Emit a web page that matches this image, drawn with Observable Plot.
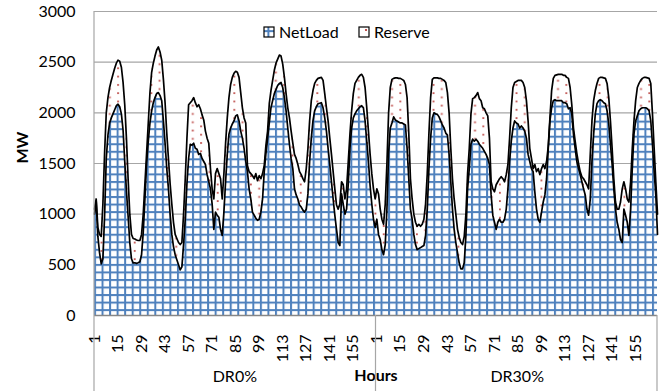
<!DOCTYPE html>
<html><head><meta charset="utf-8">
<script src="https://cdn.jsdelivr.net/npm/d3@7"></script>
<script src="https://cdn.jsdelivr.net/npm/@observablehq/plot@0.6"></script>
<style>
body{margin:0;background:#fff;}
#chart{position:relative;width:659px;height:391px;overflow:hidden;background:#fff;}
</style></head><body><div id="chart"></div>
<script>
const panels = ["DR0%", "DR30%"];
const hourLabels = [1, 15, 29, 43, 57, 71, 85, 99, 113, 127, 141, 155];
const hoursPerPanel = 168;
const yTicks = [0, 500, 1000, 1500, 2000, 2500, 3000];
const seriesNames = ["NetLoad", "Reserve"];

const netLoadDR0 = [
  1000,1130,780,620,510,560,980,1550,1780,1900,1950,1990,2030,2070,2085,2060,1990,1830,1520,1230,980,720,560,520,
  520,515,520,530,600,820,1150,1500,1720,1900,2020,2100,2150,2190,2200,2170,2120,1920,1700,1450,1250,1000,800,680,
  600,550,500,450,480,700,950,1300,1550,1690,1680,1700,1650,1640,1590,1600,1550,1520,1490,1390,1320,1250,1100,850,
  1020,990,970,850,790,1020,1320,1590,1790,1850,1890,1920,1970,1980,1920,1820,1750,1650,1520,1420,1250,1150,1020,990,
  960,940,950,1020,1150,1420,1600,1750,1900,2050,2120,2190,2230,2270,2290,2300,2250,2150,2020,1850,1690,1550,1450,1250,
  1190,1150,1090,1070,1040,1020,1050,1200,1520,1750,1920,2020,2060,2090,2095,2100,2050,1950,1820,1650,1490,1320,1150,990,
  850,720,690,1200,1100,1000,1050,1300,1650,1850,1950,1990,2020,2040,2060,2070,2050,1920,1720,1520,1280,1100,950,870
];
const reserveDR0 = [
  50,20,90,180,270,540,620,450,370,350,370,390,410,420,435,450,460,470,560,520,370,280,240,240,
  235,230,220,210,200,180,150,100,180,300,380,390,410,430,450,430,400,410,400,350,300,300,300,240,
  200,210,220,250,240,300,400,450,530,410,440,450,450,420,490,440,430,410,330,360,380,200,150,300,
  380,460,430,500,360,380,380,360,360,430,460,470,440,420,430,380,300,300,380,60,170,250,360,360,
  440,390,430,330,250,60,80,70,190,170,200,230,260,260,280,260,230,200,170,200,260,270,250,340,
  360,340,330,320,310,300,400,450,400,370,300,270,260,250,250,250,270,240,230,270,260,270,270,260,
  240,330,410,120,190,150,200,220,140,170,240,300,300,310,310,310,300,330,330,300,310,300,300,280
];
const netLoadDR30 = [
  950,800,750,650,600,700,1050,1600,1850,1900,1960,1930,1920,1910,1900,1900,1890,1880,1650,1350,1050,950,800,700,
  650,660,670,680,690,790,1050,1450,1750,1950,2000,1990,1985,1960,1920,1880,1850,1800,1780,1590,1320,1050,850,720,
  620,520,460,460,520,790,1250,1450,1690,1740,1720,1740,1720,1690,1670,1650,1620,1590,1550,1490,1190,990,920,850,
  920,950,920,920,950,1050,1250,1520,1720,1850,1920,1900,1890,1850,1870,1850,1820,1750,1590,1520,1450,1420,1220,1050,
  950,920,1020,1120,1190,1350,1650,1920,2050,2120,2130,2120,2120,2120,2120,2100,2100,2090,2040,2050,1990,1790,1650,1520,
  1450,1390,1320,1250,1190,1050,990,1150,1520,1790,1990,2090,2120,2130,2120,2100,2090,2020,1890,1690,1490,1250,1050,920,
  850,750,720,1050,990,920,790,1050,1450,1790,1920,1970,2020,2040,2050,2050,2050,2040,2020,1920,1690,1420,1190,800
];
const reserveDR30 = [
  300,400,300,300,300,400,450,400,400,430,380,415,425,430,440,430,430,400,500,450,300,200,200,220,
  230,240,210,220,260,310,350,350,400,380,345,355,360,380,420,450,470,500,420,410,330,300,300,280,
  230,250,260,240,260,210,150,200,300,400,430,430,480,450,450,400,420,410,420,260,130,260,300,440,
  400,400,450,430,370,340,240,230,330,400,380,410,430,470,450,450,430,370,330,130,100,30,270,370,
  500,470,430,370,260,170,20,30,170,220,240,255,260,260,260,270,270,260,300,200,90,60,70,80,
  50,30,50,100,130,240,260,440,400,330,230,200,220,220,230,245,250,270,260,230,160,100,70,130,
  200,370,530,270,260,230,330,270,200,130,200,280,270,280,290,300,300,305,320,370,300,230,130,200
];

const rows = [];
[[netLoadDR0, reserveDR0], [netLoadDR30, reserveDR30]].forEach(([net, res], p) => {
  net.forEach((v, h) => rows.push({i: p * hoursPerPanel + h, panel: panels[p], hour: h + 1, net: v, reserve: res[h], total: v + res[h]}));
});
const tickIdx = panels.flatMap((_, p) => hourLabels.map(h => p * hoursPerPanel + h - 1));
const panelRows = panels.map((name, p) => ({name, mid: p * hoursPerPanel + (hoursPerPanel - 1) / 2}));

const FONT = "Lato, 'Open Sans', sans-serif";
const chartSvg = Plot.plot({
  width: 659, height: 391,
  marginLeft: 94, marginRight: 2, marginTop: 11, marginBottom: 76,
  style: {fontFamily: FONT, fontSize: "16px", color: "#000", background: "#fff", overflow: "visible"},
  x: {domain: [0, rows.length - 1]},
  y: {domain: [0, 3000]},
  marks: [
    Plot.gridY(yTicks, {stroke: "#a6a6a6", strokeOpacity: 1, strokeWidth: 1.2}),
    Plot.areaY(rows, {x: "i", y1: "net", y2: "total", fill: "url(#resPat)"}),
    Plot.areaY(rows, {x: "i", y1: 0, y2: "net", fill: "url(#gridPat)"}),
    Plot.lineY(rows, {x: "i", y: "total", stroke: "#000", strokeWidth: 1.7}),
    Plot.lineY(rows, {x: "i", y: "net", stroke: "#000", strokeWidth: 1.7}),
    Plot.ruleY([0], {stroke: "#868686", strokeWidth: 1.6}),
    Plot.axisY({ticks: yTicks, tickFormat: d => String(d), tickSize: 0, tickPadding: 19, label: null, fontSize: 16}),
    Plot.axisX({ticks: tickIdx, tickFormat: i => String((i % hoursPerPanel) + 1), tickRotate: -90, tickSize: 0, tickPadding: 19, label: null, fontSize: 16}),
    Plot.text(panelRows, {x: "mid", text: "name", frameAnchor: "bottom", dy: 66, fontSize: 16}),
    Plot.text(["Hours"], {frameAnchor: "bottom", dy: 65, fontSize: 16, fontWeight: "bold"}),
    Plot.text(["MW"], {frameAnchor: "left", dx: -72, rotate: -90, fontSize: 16, fontWeight: "bold"})
  ]
});

const s = d3.select(chartSvg);
s.insert("defs", ":first-child").html(`
  <pattern id="gridPat" patternUnits="userSpaceOnUse" width="7.54" height="7.54" x="94" y="0">
    <rect width="7.54" height="7.54" fill="#fff"/>
    <rect x="0" y="0" width="7.54" height="2" fill="#4f81bd"/>
    <rect x="0" y="0" width="2" height="7.54" fill="#4f81bd"/>
  </pattern>
  <pattern id="resPat" patternUnits="userSpaceOnUse" width="16.6" height="8.3">
    <rect width="16.6" height="8.3" fill="#fff"/>
    <rect x="1" y="1" width="1.8" height="1.8" fill="#c0504d"/>
    <rect x="9.3" y="5.15" width="1.8" height="1.8" fill="#c0504d"/>
  </pattern>
  <pattern id="resSw" patternUnits="userSpaceOnUse" width="12" height="12">
    <rect width="12" height="12" fill="#fff"/>
    <rect x="5" y="5" width="2" height="2" fill="#c0504d"/>
  </pattern>`);

const xs = chartSvg.scale("x");
const leftPx = 94, rightPx = 659 - 2, bottomPx = 391 - 76, topPx = 11;
const deco = s.append("g").attr("stroke", "#a6a6a6").attr("stroke-width", 1.2);
deco.append("line").attr("x1", leftPx).attr("x2", leftPx).attr("y1", topPx).attr("y2", 391);
const divX = xs.apply(hoursPerPanel - 0.5);
deco.append("line").attr("x1", divX).attr("x2", divX).attr("y1", bottomPx).attr("y2", 391);
deco.append("line").attr("x1", rightPx).attr("x2", rightPx).attr("y1", bottomPx).attr("y2", 391);

// legend
const lg = s.append("g").attr("font-family", FONT).attr("font-size", 16).attr("text-anchor", "start");
const items = [{name: seriesNames[0], fill: "url(#gridPat)", x: 264}, {name: seriesNames[1], fill: "url(#resSw)", x: 359}];
items.forEach(it => {
  lg.append("rect").attr("x", it.x).attr("y", 27).attr("width", 10).attr("height", 10)
    .attr("fill", it.fill).attr("stroke", "#000").attr("stroke-width", 1.2);
  lg.append("text").attr("x", it.x + 15).attr("y", 38).attr("text-anchor", "start").text(it.name);
});

document.getElementById("chart").appendChild(chartSvg);
</script></body></html>
